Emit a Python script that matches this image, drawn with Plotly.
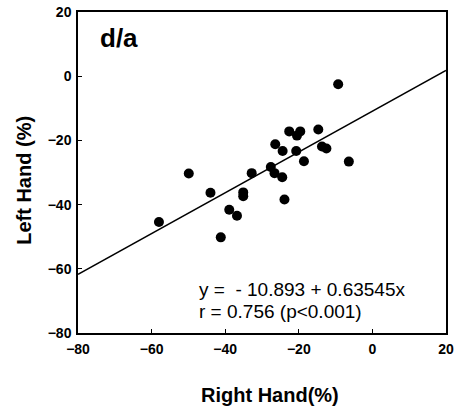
import plotly.graph_objects as go

right_hand = [-58.0, -49.9, -44.0, -41.2, -38.9, -36.8, -35.1, -35.1, -32.8, -27.6,
              -26.6, -24.5, -23.9, -26.4, -24.4, -20.7, -18.6, -22.6, -20.5, -19.6,
              -14.7, -13.7, -12.5, -9.3, -6.4]
left_hand = [-45.4, -30.3, -36.3, -50.2, -41.6, -43.5, -36.2, -37.4, -30.2, -28.3,
             -30.2, -31.5, -38.4, -21.2, -23.3, -23.3, -26.5, -17.2, -18.5, -17.2,
             -16.6, -21.9, -22.5, -2.5, -26.6]
intercept = -10.893
slope = 0.63545
line_x = [-80, 20]
line_y = [intercept + slope * v for v in line_x]
tick_vals = [-80, -60, -40, -20, 0, 20]

font = "Liberation Sans, Arial, sans-serif"

fig = go.Figure()
fig.add_trace(go.Scatter(x=line_x, y=line_y, mode="lines",
                         line=dict(color="black", width=1.6), showlegend=False))
fig.add_trace(go.Scatter(x=right_hand, y=left_hand, mode="markers",
                         marker=dict(color="black", size=10), showlegend=False))

axis_common = dict(showgrid=False, zeroline=False, showline=True, linecolor="black",
                   linewidth=1.5, mirror=True, ticks="inside", ticklen=4,
                   tickcolor="black", tickwidth=1, tickvals=tick_vals,
                   automargin=False,
                   tickfont=dict(family=font, size=14, color="black", weight="bold"))

fig.update_layout(
    width=454, height=410,
    margin=dict(l=78, r=8, t=12, b=77),
    paper_bgcolor="white", plot_bgcolor="white",
    xaxis=dict(range=[-80, 20], ticklabelstandoff=2, **axis_common),
    yaxis=dict(range=[-80, 20], ticklabelstandoff=2, **axis_common),
    annotations=[
        dict(text="<b>d/a</b>", xref="paper", yref="paper", x=0.054, y=0.92,
             xanchor="left", yanchor="middle", showarrow=False,
             font=dict(family=font, size=26, color="black")),
        dict(text="y =  - 10.893 + 0.63545x", xref="x", yref="y", x=-47.6, y=-66.6,
             xanchor="left", yanchor="middle", showarrow=False,
             font=dict(family=font, size=19, color="black")),
        dict(text="r = 0.756 (p<0.001)", xref="x", yref="y", x=-47.6, y=-73.4,
             xanchor="left", yanchor="middle", showarrow=False,
             font=dict(family=font, size=19, color="black")),
        dict(text="<b>Right Hand(%)</b>", xref="paper", yref="paper", x=0.522, y=-0.193,
             xanchor="center", yanchor="middle", showarrow=False,
             font=dict(family=font, size=20, color="black")),
        dict(text="<b>Left Hand (%)</b>", xref="paper", yref="paper", x=-0.147, y=0.477,
             xanchor="center", yanchor="middle", showarrow=False, textangle=-90,
             font=dict(family=font, size=20, color="black")),
    ],
)

fig.write_html("out.html")
